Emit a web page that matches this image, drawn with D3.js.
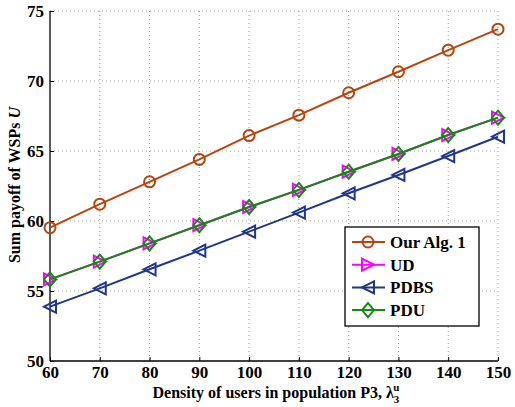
<!DOCTYPE html>
<html>
<head>
<meta charset="utf-8">
<script src="https://cdn.jsdelivr.net/npm/d3@7"></script>
<style>
  body { margin: 0; background: #fff; }
  svg { font-family: "Liberation Serif", "DejaVu Serif", serif; font-weight: bold; }
</style>
</head>
<body>
<div id="chart"></div>
<script>
// Sum payoff vs density of users in P3

const densities = [60, 70, 80, 90, 100, 110, 120, 130, 140, 150];
const ourAlg = [59.52, 61.2, 62.8, 64.4, 66.1, 67.56, 69.16, 70.66, 72.2, 73.7];
const ud     = [55.83, 57.1, 58.4, 59.7, 61.0, 62.22, 63.52, 64.79, 66.14, 67.38];
const pdbs   = [53.88, 55.19, 56.55, 57.88, 59.24, 60.6, 61.98, 63.29, 64.64, 66.02];
const pdu    = [55.83, 57.1, 58.4, 59.7, 61.0, 62.22, 63.52, 64.79, 66.14, 67.38];
const xTicks = [60, 70, 80, 90, 100, 110, 120, 130, 140, 150];
const yTicks = [50, 55, 60, 65, 70, 75];

const series = [
  { name: "Our Alg. 1", values: ourAlg, color: "#b8450f", marker: "circle" },
  { name: "UD",         values: ud,     color: "#ff00ff", marker: "triRight" },
  { name: "PDBS",       values: pdbs,   color: "#1f3592", marker: "triLeft" },
  { name: "PDU",        values: pdu,    color: "#148a14", marker: "diamond" },
];

const width = 515, height = 407;
const margin = { top: 11, right: 17, bottom: 46, left: 50 };

const svg = d3.select("#chart").append("svg")
  .attr("width", width).attr("height", height);

const x = d3.scaleLinear().domain([60, 150]).range([margin.left, width - margin.right]);
const y = d3.scaleLinear().domain([50, 75]).range([height - margin.bottom, margin.top]);

// grid
const grid = svg.append("g");
grid.selectAll("line.gx").data(xTicks.slice(1)).join("line")
  .attr("x1", d => x(d)).attr("x2", d => x(d))
  .attr("y1", margin.top).attr("y2", height - margin.bottom)
  .attr("stroke", "#999").attr("stroke-width", 1).attr("stroke-dasharray", "1 3");
grid.selectAll("line.gy").data(yTicks.slice(1)).join("line")
  .attr("x1", margin.left).attr("x2", width - margin.right)
  .attr("y1", d => y(d)).attr("y2", d => y(d))
  .attr("stroke", "#999").attr("stroke-width", 1).attr("stroke-dasharray", "1 3");

// axes
const gX = svg.append("g").attr("transform", `translate(0,${height - margin.bottom})`)
  .call(d3.axisBottom(x).tickValues(xTicks).tickSize(-4).tickPadding(8));
const gY = svg.append("g").attr("transform", `translate(${margin.left},0)`)
  .call(d3.axisLeft(y).tickValues(yTicks).tickSize(-4).tickPadding(6));
[gX, gY].forEach(g => {
  g.select(".domain").attr("stroke", "#000").attr("stroke-width", 1.3);
  g.selectAll(".tick line").attr("stroke", "#000");
  g.selectAll("text").attr("font-family", "Liberation Serif, serif")
    .attr("font-weight", "bold").attr("font-size", 17).attr("fill", "#000");
});
gX.select(".domain").attr("d", `M${margin.left},0H${width - margin.right}`);
gY.select(".domain").attr("d", `M0,${margin.top}V${height - margin.bottom}`);
gX.selectAll(".tick text").attr("dy", "0.55em");
gY.selectAll(".tick text").attr("dy", "0.32em");

// markers
function drawMarker(sel, type, color) {
  const s = 6;
  if (type === "circle") {
    sel.append("circle").attr("r", 5.5);
  } else if (type === "triRight") {
    sel.append("path").attr("d", `M${s},0L${-s},${-s}L${-s},${s}Z`);
  } else if (type === "triLeft") {
    sel.append("path").attr("d", `M${-s},0L${s},${-s}L${s},${s}Z`);
  } else {
    sel.append("path").attr("d", `M0,${-7}L${6},0L0,${7}L${-6},0Z`);
  }
  sel.selectAll("circle,path").attr("fill", "none").attr("stroke", color).attr("stroke-width", 2);
}

const line = d3.line().x((d, i) => x(densities[i])).y(d => y(d));
const gLines = svg.append("g");
series.forEach(s => {
  gLines.append("path").datum(s.values)
    .attr("d", line).attr("fill", "none")
    .attr("stroke", s.color).attr("stroke-width", 2);
  s.values.forEach((v, i) => {
    const g = gLines.append("g").attr("transform", `translate(${x(densities[i])},${y(v)})`);
    drawMarker(g, s.marker, s.color);
  });
});

// legend
const lg = svg.append("g").attr("transform", "translate(345,227)");
lg.append("rect").attr("width", 134).attr("height", 99)
  .attr("fill", "#fff").attr("stroke", "#000").attr("stroke-width", 1.3);
series.forEach((s, i) => {
  const row = lg.append("g").attr("transform", `translate(0,${15 + i * 22.7})`);
  row.append("line").attr("x1", 7).attr("x2", 40).attr("stroke", s.color).attr("stroke-width", 2);
  drawMarker(row.append("g").attr("transform", "translate(23,0)"), s.marker, s.color);
  row.append("text").attr("x", 45).attr("dy", "0.35em")
    .attr("font-size", 17).attr("fill", "#000").text(s.name);
});

// axis titles
const xt = svg.append("text").attr("x", 276).attr("y", 398)
  .attr("text-anchor", "middle").attr("font-size", 16).attr("fill", "#000");
xt.append("tspan").text("Density of users in population P3, λ");
xt.append("tspan").attr("font-size", 11).attr("dy", 5).text("3");
xt.append("tspan").attr("font-size", 11).attr("dx", -6).attr("dy", -12).text("u");

const yt = svg.append("text").attr("transform", `translate(20,185) rotate(-90)`)
  .attr("text-anchor", "middle").attr("font-size", 16).attr("fill", "#000");
yt.append("tspan").text("Sum payoff of WSPs ");
yt.append("tspan").attr("font-style", "italic").text("U");
</script>
</body>
</html>
